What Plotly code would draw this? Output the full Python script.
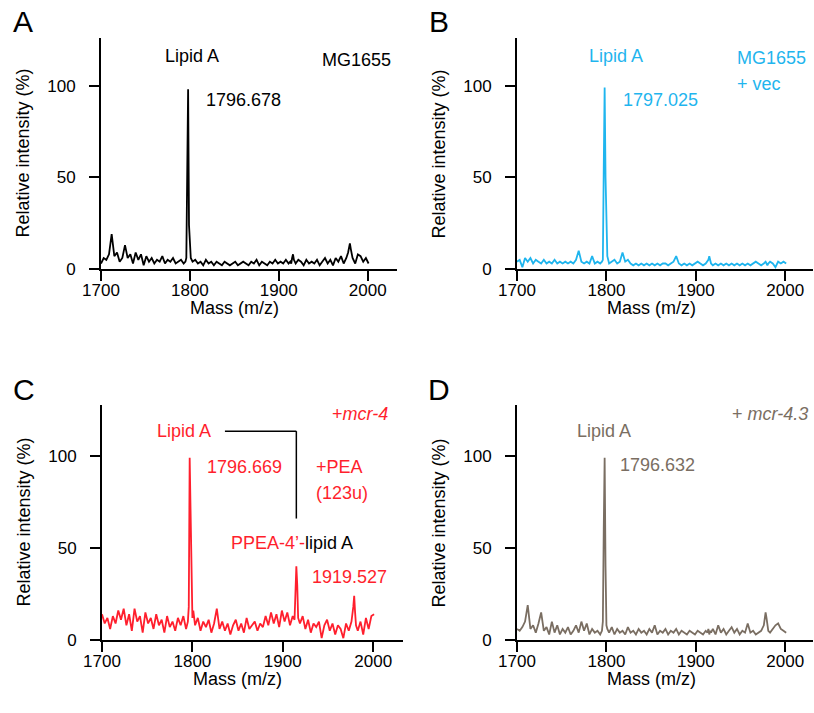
import plotly.graph_objects as go

# ---------------- data ----------------
mass = [
    1700, 1703, 1706, 1709, 1712, 1715, 1718, 1721, 1724, 1727,
    1730, 1733, 1736, 1739, 1742, 1745, 1748, 1751, 1754, 1757,
    1760, 1763, 1766, 1769, 1772, 1775, 1778, 1781, 1784, 1787,
    1790, 1793, 1795, 1796, 1797, 1798, 1799, 1800, 1801, 1803,
    1806, 1809, 1812, 1815, 1818, 1821, 1824, 1827, 1830, 1833,
    1836, 1839, 1842, 1845, 1848, 1851, 1854, 1857, 1860, 1863,
    1866, 1869, 1872, 1875, 1878, 1881, 1884, 1887, 1890, 1893,
    1896, 1899, 1902, 1905, 1908, 1911, 1913, 1914, 1915, 1916,
    1917, 1919, 1922, 1925, 1928, 1931, 1934, 1937, 1940, 1943,
    1946, 1949, 1952, 1955, 1958, 1961, 1964, 1967, 1970, 1973,
    1976, 1978, 1979, 1980, 1981, 1983, 1986, 1989, 1992, 1995,
    1998, 2001,
]

intensity_mg1655 = [
    3, 6, 5, 8, 19, 7, 9, 4, 6, 13,
    6, 8, 3, 9, 5, 8, 2, 7, 4, 6,
    3, 5, 4, 7, 3, 5, 4, 6, 3, 4,
    5, 3, 4, 6, 40, 98, 24, 14, 6, 4,
    5, 3, 4, 2, 5, 3, 4, 2, 4, 3,
    2, 4, 3, 2, 3, 4, 2, 3, 4, 3,
    2, 4, 3, 5, 2, 4, 3, 2, 4, 3,
    5, 3, 4, 3, 5, 3, 4, 3, 6, 8,
    5, 3, 5, 4, 2, 5, 3, 4, 3, 5,
    2, 4, 6, 3, 5, 2, 6, 4, 7, 3,
    6, 9, 12, 14, 11, 6, 3, 8, 7, 4,
    6, 3,
]

intensity_vec = [
    4, 5, 1, 6, 4, 6, 3, 5, 4, 3,
    5, 3, 4, 3, 5, 3, 4, 3, 4, 3,
    4, 3, 5, 10, 4, 3, 4, 3, 7, 3,
    4, 3, 4, 5, 55, 99, 50, 14, 7, 3,
    4, 5, 3, 4, 9, 4, 5, 3, 2, 3,
    2, 3, 2, 3, 2, 3, 2, 3, 2, 3,
    3, 2, 3, 4, 7, 3, 2, 3, 2, 3,
    2, 3, 4, 3, 2, 3, 4, 5, 7, 4,
    3, 2, 3, 2, 3, 2, 3, 2, 3, 2,
    3, 2, 3, 2, 3, 2, 3, 4, 3, 2,
    3, 4, 3, 2, 3, 4, 3, 1, 4, 3,
    4, 3,
]

intensity_mcr4 = [
    14, 9, 12, 6, 13, 9, 16, 11, 17, 8,
    14, 5, 17, 10, 13, 4, 15, 9, 12, 6,
    14, 8, 11, 4, 13, 7, 10, 5, 12, 8,
    13, 6, 10, 18, 99, 60, 20, 12, 16, 8,
    12, 5, 10, 7, 11, 4, 9, 17, 6, 10,
    5, 9, 3, 8, 11, 5, 9, 4, 12, 6,
    8, 10, 5, 9, 7, 13, 8, 15, 9, 14,
    7, 16, 10, 15, 8, 13, 11, 22, 40, 30,
    12, 9, 13, 6, 11, 4, 9, 7, 10, 1,
    8, 11, 5, 9, 3, 8, 6, 1, 9, 5,
    10, 18, 24, 15, 8, 5, 10, 3, 12, 6,
    13, 14,
]

intensity_mcr43 = [
    6, 5, 7, 10, 19, 6, 8, 4, 9, 15,
    5, 7, 3, 10, 4, 8, 3, 6, 4, 7,
    3, 5, 8, 4, 10, 5, 9, 3, 6, 4,
    5, 3, 5, 10, 60, 99, 40, 8, 6, 4,
    7, 3, 6, 4, 5, 3, 7, 4, 5, 3,
    6, 4, 5, 3, 6, 4, 8, 3, 5, 4,
    6, 3, 5, 4, 6, 3, 5, 4, 3, 5,
    4, 3, 5, 4, 3, 5, 4, 6, 3, 5,
    4, 6, 3, 8, 4, 6, 3, 5, 7, 4,
    6, 3, 5, 4, 9, 4, 5, 3, 4, 5,
    8, 15, 12, 7, 5, 4, 6, 8, 9, 6,
    5, 4,
]

x_ticks = [1700, 1800, 1900, 2000]
y_ticks = [0, 50, 100]

# ---------------- style ----------------
W, H = 814, 713
FONT = "Liberation Sans, Arial, sans-serif"
C_A = "#000000"
C_B = "#1FB5EE"
C_C = "#FF1F2D"
C_D = "#7A6E62"

def px_x(p):
    return p / W

def px_y(p):
    return 1 - p / H

panels = [
    # name, xaxis, yaxis, x-domain px, y-domain px (top, bottom), xmax, ymax, data, color
    ("A", "x", "y", (101, 397), (38, 269), 2033, 126, intensity_mg1655, C_A),
    ("B", "x2", "y2", (517, 813), (38, 269), 2031, 126, intensity_vec, C_B),
    ("C", "x3", "y3", (102, 403), (405, 640), 2033, 127.7, intensity_mcr4, C_C),
    ("D", "x4", "y4", (517, 813), (405, 640), 2031, 127.7, intensity_mcr43, C_D),
]

fig = go.Figure()
layout = dict(
    width=W, height=H, autosize=False,
    margin=dict(l=0, r=0, t=0, b=0, pad=0),
    paper_bgcolor="white", plot_bgcolor="white",
    showlegend=False,
    font=dict(family=FONT, size=17, color="black"),
)

annotations = []
for name, xa, ya, (x0, x1), (yt, yb), xmax, ymax, data, color in panels:
    fig.add_trace(go.Scatter(
        x=mass, y=data, xaxis=xa, yaxis=ya, mode="lines",
        line=dict(color=color, width=1.8), hoverinfo="skip",
    ))
    xkey = "xaxis" + xa[1:]
    ykey = "yaxis" + ya[1:]
    layout[xkey] = dict(
        domain=[px_x(x0), px_x(x1)], range=[1700, xmax], anchor=ya,
        automargin=False, ticklabelstandoff=-5,
        showline=True, linecolor="black", linewidth=2,
        ticks="outside", ticklen=10, tickwidth=2, tickcolor="black",
        tickvals=x_ticks, showgrid=False, zeroline=False,
        tickfont=dict(size=17, family=FONT, color="black"),
    )
    layout[ykey] = dict(
        domain=[px_y(yb), px_y(yt)], range=[0, ymax], anchor=xa,
        automargin=False, ticklabelstandoff=10,
        showline=True, linecolor="black", linewidth=2,
        ticks="outside", ticklen=10, tickwidth=2, tickcolor="black",
        tickvals=y_ticks, showgrid=False, zeroline=False,
        tickfont=dict(size=17, family=FONT, color="black"),
    )
    # axis titles
    annotations.append(dict(
        text="Mass (m/z)", xref=xa, x=1850, yref="paper", y=px_y(yb + 39),
        showarrow=False, xanchor="center", yanchor="middle",
        font=dict(size=18, family=FONT, color="black"),
    ))
    annotations.append(dict(
        text="Relative intensity (%)", xref="paper", x=px_x(x0 - 79),
        yref="paper", y=px_y((yt + yb) / 2), textangle=-90,
        showarrow=False, xanchor="center", yanchor="middle",
        font=dict(size=18, family=FONT, color="black"),
    ))
    # panel letter
    annotations.append(dict(
        text=name, xref="paper", x=px_x(x0 - 78), yref="paper", y=px_y(yt - 16),
        showarrow=False, xanchor="center", yanchor="middle",
        font=dict(size=30, family=FONT, color="black"),
    ))

def note(text, xa, ya, x, y, color, anchor="left", size=18):
    annotations.append(dict(
        text=text, xref=xa, yref=ya, x=x, y=y, showarrow=False,
        xanchor=anchor, yanchor="middle",
        font=dict(size=size, family=FONT, color=color),
    ))

# Panel A
note("Lipid A", "x", "y", 1802, 116, C_A, "center")
note("MG1655", "x", "y", 2028, 114, C_A, "right")
note("1796.678", "x", "y", 1816, 92, C_A)
# Panel B
note("Lipid A", "x2", "y2", 1811, 116, C_B, "center")
note("MG1655", "x2", "y2", 1944, 115, C_B)
note("+ vec", "x2", "y2", 1944, 101, C_B)
note("1797.025", "x2", "y2", 1816, 92, C_B)
# Panel C
note("Lipid A", "x3", "y3", 1791, 113.6, C_C, "center")
note("1796.669", "x3", "y3", 1814, 94, C_C)
note("+<i>mcr-4</i>", "x3", "y3", 2019, 123, C_C, "right")
note("+PEA", "x3", "y3", 1935, 94, C_C)
note("(123u)", "x3", "y3", 1935, 80, C_C)
note("PPEA-4\u2019-<span style='color:black'>lipid A</span>", "x3", "y3", 1841, 52.7, C_C)
note("1919.527", "x3", "y3", 1930, 34, C_C)
# Panel D
note("Lipid A", "x4", "y4", 1797, 113.6, C_D, "center")
note("+ <i>mcr-4.3</i>", "x4", "y4", 2028, 123, C_D, "right")
note("1796.632", "x4", "y4", 1813, 95, C_D)

layout["annotations"] = annotations

# bracket linking lipid A and PPEA-4'-lipid A in panel C
bracket_x = [1836, 1915]
bracket_y = [113.5, 66]
layout["shapes"] = [
    dict(type="line", xref="x3", yref="y3", x0=bracket_x[0], x1=bracket_x[1],
         y0=bracket_y[0], y1=bracket_y[0], line=dict(color="black", width=1.5)),
    dict(type="line", xref="x3", yref="y3", x0=bracket_x[1], x1=bracket_x[1],
         y0=bracket_y[0], y1=bracket_y[1], line=dict(color="black", width=1.5)),
]

fig.update_layout(**layout)
fig.write_html(
    "out.html",
    config={"displayModeBar": False},
    post_script="document.body.style.margin='0';document.body.style.padding='0';",
)
